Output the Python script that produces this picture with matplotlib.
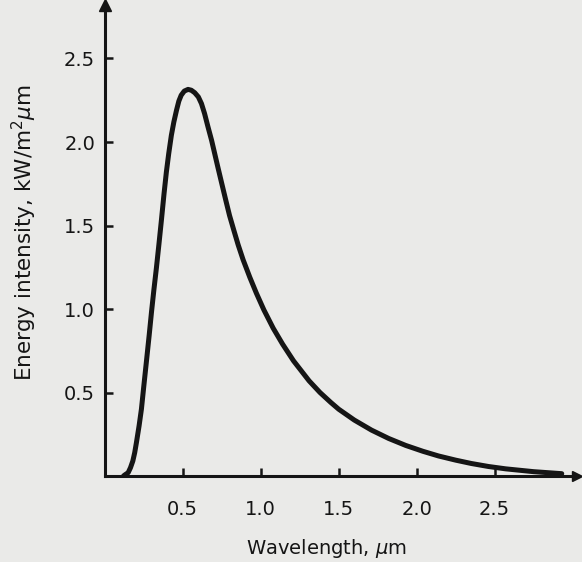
import matplotlib
matplotlib.use("Agg")
import matplotlib.pyplot as plt

# (wavelength in um, intensity in kW/m2 um)
wavelength = [0.12, 0.128, 0.15, 0.165, 0.18, 0.192, 0.203, 0.22, 0.235, 0.25,
              0.267, 0.285, 0.30, 0.315, 0.331, 0.347, 0.363, 0.38, 0.395, 0.41,
              0.427, 0.443, 0.46, 0.475, 0.49, 0.51, 0.534, 0.555, 0.577, 0.60,
              0.62, 0.64, 0.662, 0.685, 0.705, 0.725, 0.748, 0.775, 0.80, 0.828,
              0.855, 0.887, 0.93, 0.972, 1.02, 1.08, 1.14, 1.21, 1.31, 1.38,
              1.45, 1.50, 1.60, 1.71, 1.82, 1.93, 2.04, 2.14, 2.25, 2.35,
              2.46, 2.57, 2.75, 2.93]
intensity = [0.0, 0.006, 0.02, 0.05, 0.09, 0.14, 0.20, 0.30, 0.40, 0.535,
             0.685, 0.845, 0.985, 1.115, 1.245, 1.385, 1.53, 1.69, 1.82, 1.93,
             2.04, 2.12, 2.19, 2.245, 2.28, 2.305, 2.315, 2.31, 2.295, 2.27,
             2.23, 2.17, 2.09, 2.01, 1.93, 1.85, 1.76, 1.655, 1.56, 1.47,
             1.385, 1.295, 1.19, 1.095, 0.995, 0.885, 0.79, 0.69, 0.57, 0.50,
             0.44, 0.40, 0.335, 0.275, 0.225, 0.183, 0.148, 0.12, 0.095, 0.075,
             0.057, 0.043, 0.026, 0.014]

ticks = [0.5, 1.0, 1.5, 2.0, 2.5]
tick_labels = ["0.5", "1.0", "1.5", "2.0", "2.5"]

paper = "#eaeae8"
ink = "#151515"

fig = plt.figure(figsize=(5.82, 5.62), dpi=100, facecolor=paper)
ax = fig.add_axes([0.180, 0.153, 0.812, 0.838], facecolor=paper)

ax.plot(wavelength, intensity, color=ink, lw=3.6, solid_capstyle='round',
        solid_joinstyle='round')

ax.set_xlim(0, 3.03)
ax.set_ylim(0, 2.82)

for side in ['top', 'right']:
    ax.spines[side].set_visible(False)
for side in ['left', 'bottom']:
    ax.spines[side].set_linewidth(2.2)
    ax.spines[side].set_color(ink)

# arrow head on y axis, dot/arrow on x axis
ax.plot([0], [1], marker='^', color=ink, ms=8, transform=ax.transAxes, clip_on=False)
ax.plot([1], [0], marker='>', color=ink, ms=7, transform=ax.transAxes, clip_on=False)

ax.set_xticks(ticks)
ax.set_xticklabels(tick_labels)
ax.set_yticks(ticks)
ax.set_yticklabels(tick_labels)
ax.tick_params(axis='both', direction='in', length=6, width=1.8, color=ink,
               labelcolor=ink, labelsize=14)
ax.tick_params(axis='x', pad=17)
ax.tick_params(axis='y', pad=7)

ax.text(0.47, -0.153, "Wavelength, $\\mu$m", transform=ax.transAxes,
        ha='center', va='center', fontsize=14, color=ink)
ax.text(-0.169, 0.516, "Energy intensity, kW/m$^2$$\\mu$m", transform=ax.transAxes,
        ha='center', va='center', rotation=90, fontsize=15.5, color=ink)

fig.savefig("out.png", dpi=100, facecolor=paper)
